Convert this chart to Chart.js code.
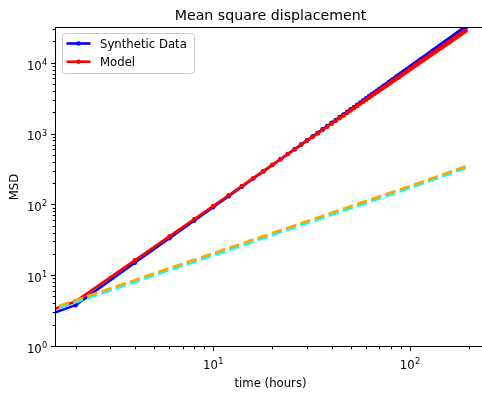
<!DOCTYPE html>
<html>
<head>
<meta charset="utf-8">
<title>Mean square displacement</title>
<script src="https://cdn.jsdelivr.net/npm/chart.js@4.4.0/dist/chart.umd.min.js"></script>
<style>
  html, body { margin: 0; padding: 0; background: #fff; overflow: hidden; }
  #wrap { width: 490px; height: 394px; }
</style>
</head>
<body>
<div id="wrap"><canvas id="msdChart" width="490" height="394"></canvas></div>
<script>
// time grid (hours); the point at 1 h only carries the line in from the left edge
const hours = [1, 2, 4, 6, 8, 10, 12, 14, 16, 18, 20, 22, 24, 26, 28, 30, 32, 34, 36, 38, 40,
  42, 44, 46, 48, 50, 52, 54, 56, 58, 60, 62, 64, 66, 68, 70, 72, 74, 76, 78, 80,
  82, 84, 86, 88, 90, 92, 94, 96, 98, 100, 102, 104, 106, 108, 110, 112, 114, 116, 118, 120,
  122, 124, 126, 128, 130, 132, 134, 136, 138, 140, 142, 144, 146, 148, 150, 152, 154, 156, 158, 160,
  162, 164, 166, 168, 170, 172, 174, 176, 178, 180, 182, 184, 186, 188, 190, 192];

const synthetic = [1.95, 3.9, 15.5, 34.4, 60.7, 94.4, 135, 183, 239, 301, 371,
  448, 532, 623, 721, 827, 939, 1059, 1185, 1318, 1459,
  1607, 1762, 1923, 2092, 2268, 2450, 2639, 2835, 3038, 3251,
  3467, 3690, 3925, 4162, 4405, 4660, 4917, 5181, 5457, 5734,
  6025, 6315, 6619, 6923, 7241, 7558, 7891, 8221, 8567, 8910,
  9270, 9626, 10000, 10381, 10757, 11152, 11540, 11949, 12365, 12773,
  13202, 13639, 14066, 14516, 14957, 15420, 15891, 16350, 16835, 17326,
  17825, 18310, 18822, 19341, 19845, 20378, 20918, 21464, 21993, 22554,
  23121, 23668, 24249, 24837, 25432, 26004, 26613, 27228, 27819, 28447,
  29083, 29726, 30341, 30997, 31660, 32330];

const model = [2.2, 4.4, 16.7, 36.5, 63.7, 97.9, 139, 187, 242, 304, 373,
  448, 530, 619, 714, 815, 924, 1039, 1160, 1288, 1421,
  1561, 1708, 1860, 2021, 2185, 2358, 2537, 2719, 2910, 3107,
  3310, 3519, 3737, 3958, 4185, 4417, 4660, 4904, 5159, 5414,
  5682, 5948, 6227, 6513, 6796, 7093, 7396, 7695, 8010, 8330,
  8656, 8988, 9326, 9669, 10019, 10374, 10735, 11101, 11473, 11851,
  12235, 12624, 13018, 13418, 13824, 14253, 14670, 15093, 15521, 15954,
  16393, 16838, 17287, 17764, 18225, 18691, 19163, 19639, 20146, 20634,
  21126, 21651, 22155, 22664, 23178, 23726, 24251, 24781, 25347, 25888,
  26466, 27017, 27608, 28169, 28736, 29200];

// the two dashed reference lines
const fitHours = [1, 10, 100, 192];
const fitOrange = [2.37, 21.0, 187, 355];
const fitCyan = [2.23, 19.7, 176, 334];

const xMajorTicks = [10, 100];
const xTickExp = ['1', '2'];
const xMinorTicks = [2, 3, 4, 5, 6, 7, 8, 9, 20, 30, 40, 50, 60, 70, 80, 90, 200];
const yMajorTicks = [1, 10, 100, 1000, 10000];
const yTickExp = ['0', '1', '2', '3', '4'];
const yMinorTicks = [2, 3, 4, 5, 6, 7, 8, 9, 20, 30, 40, 50, 60, 70, 80, 90,
  200, 300, 400, 500, 600, 700, 800, 900, 2000, 3000, 4000, 5000, 6000, 7000, 8000, 9000,
  20000, 30000];

const FONT = '"DejaVu Sans", sans-serif';
const toPoints = (xs, ys) => xs.map((x, i) => ({ x: x, y: ys[i] }));

// 10^n label like matplotlib mathtext
function drawPower(ctx, exp, x, baseline, align) {
  const big = '11.7px ' + FONT, small = '8.2px ' + FONT;
  ctx.font = big;
  const wBase = ctx.measureText('10').width;
  ctx.font = small;
  const wExp = ctx.measureText(exp).width;
  const left = align === 'center' ? x - (wBase + wExp) / 2 : x - wBase - wExp;
  ctx.textAlign = 'left';
  ctx.textBaseline = 'alphabetic';
  ctx.font = big;
  ctx.fillText('10', left, baseline);
  ctx.font = small;
  ctx.fillText(exp, left + wBase + 0.3, baseline - 4.7);
}

const mplAxes = {
  id: 'mplAxes',
  beforeDraw(chart) {
    const ctx = chart.ctx;
    ctx.save();
    ctx.fillStyle = '#fff';
    ctx.fillRect(0, 0, chart.width, chart.height);
    ctx.restore();
  },
  afterDraw(chart) {
    const { ctx, chartArea: a } = chart;
    const xs = chart.scales.x, ys = chart.scales.y;
    ctx.save();

    // spines
    ctx.strokeStyle = '#000';
    ctx.lineWidth = 1;
    ctx.strokeRect(a.left - 0.5, a.top + 0.5, a.right - a.left, a.bottom - a.top - 1);

    // ticks
    ctx.beginPath();
    xMajorTicks.forEach(v => {
      const px = Math.round(xs.getPixelForValue(v)) + 0.5;
      ctx.moveTo(px, a.bottom); ctx.lineTo(px, a.bottom + 4);
    });
    xMinorTicks.forEach(v => {
      const px = Math.round(xs.getPixelForValue(v)) + 0.5;
      ctx.moveTo(px, a.bottom); ctx.lineTo(px, a.bottom + 2.3);
    });
    yMajorTicks.forEach(v => {
      const py = Math.round(ys.getPixelForValue(v)) - 0.5;
      ctx.moveTo(a.left - 1, py); ctx.lineTo(a.left - 5, py);
    });
    yMinorTicks.forEach(v => {
      const py = Math.round(ys.getPixelForValue(v)) - 0.5;
      ctx.moveTo(a.left - 1, py); ctx.lineTo(a.left - 3.3, py);
    });
    ctx.stroke();

    // tick labels
    ctx.fillStyle = '#000';
    xMajorTicks.forEach((v, i) => drawPower(ctx, xTickExp[i], xs.getPixelForValue(v), a.bottom + 22, 'center'));
    yMajorTicks.forEach((v, i) => drawPower(ctx, yTickExp[i], a.left - 9, ys.getPixelForValue(v) + 5.8, 'right'));

    // title and axis labels
    const midX = (a.left + a.right) / 2;
    ctx.textAlign = 'center';
    ctx.textBaseline = 'alphabetic';
    ctx.font = '14.2px ' + FONT;
    ctx.fillText('Mean square displacement', midX, 19.5);
    ctx.font = '11.7px ' + FONT;
    ctx.fillText('time (hours)', midX, 386.5);
    ctx.save();
    ctx.translate(18, (a.top + a.bottom) / 2);
    ctx.rotate(-Math.PI / 2);
    ctx.fillText('MSD', 0, 0);
    ctx.restore();

    // legend
    const lx = 62, ly = 33.5, lw = 132, lh = 40, r = 3;
    ctx.beginPath();
    ctx.roundRect(lx + 0.5, ly, lw, lh, r);
    ctx.fillStyle = 'rgba(255,255,255,0.8)';
    ctx.fill();
    ctx.strokeStyle = '#cccccc';
    ctx.stroke();
    const items = chart.data.datasets.filter(d => d.label);
    items.forEach((d, i) => {
      const yy = 43.5 + i * 18.2;
      ctx.strokeStyle = d.borderColor;
      ctx.lineWidth = d.borderWidth;
      ctx.beginPath();
      ctx.moveTo(66.5, yy); ctx.lineTo(90.5, yy);
      ctx.stroke();
      ctx.fillStyle = d.borderColor;
      ctx.beginPath();
      ctx.arc(78.5, yy, d.pointRadius, 0, Math.PI * 2);
      ctx.fill();
      ctx.fillStyle = '#000';
      ctx.textAlign = 'left';
      ctx.font = '11.7px ' + FONT;
      ctx.fillText(d.label, 100, yy + 4.3);
    });
    ctx.restore();
  }
};

const ctx = document.getElementById('msdChart');
new Chart(ctx, {
  type: 'line',
  data: {
    datasets: [
      {
        label: 'Synthetic Data',
        data: toPoints(hours, synthetic),
        borderColor: '#0000ff',
        backgroundColor: '#0000ff',
        borderWidth: 2.6,
        borderJoinStyle: 'round',
        pointRadius: 2.3,
        pointBorderWidth: 0,
        order: 4
      },
      {
        label: 'Model',
        data: toPoints(hours, model),
        borderColor: '#ff0000',
        backgroundColor: '#ff0000',
        borderWidth: 2.6,
        borderJoinStyle: 'round',
        pointRadius: 2.3,
        pointBorderWidth: 0,
        order: 3
      },
      {
        label: '',
        data: toPoints(fitHours, fitCyan),
        borderColor: '#00ffff',
        borderWidth: 2.7,
        borderDash: [10.5, 4.5],
        pointRadius: 0,
        order: 2
      },
      {
        label: '',
        data: toPoints(fitHours, fitOrange),
        borderColor: '#ffa500',
        borderWidth: 2.7,
        borderDash: [10.5, 4.5],
        pointRadius: 0,
        order: 1
      }
    ]
  },
  options: {
    responsive: false,
    animation: false,
    devicePixelRatio: 1,
    layout: { padding: { left: 56, top: 27, right: 5, bottom: 47 } },
    elements: { line: { tension: 0 } },
    scales: {
      x: { type: 'logarithmic', min: 1.59, max: 241, display: false },
      y: { type: 'logarithmic', min: 1, max: 33000, display: false }
    },
    plugins: {
      legend: { display: false },
      title: { display: false },
      tooltip: { enabled: false }
    }
  },
  plugins: [mplAxes]
});
</script>
</body>
</html>
